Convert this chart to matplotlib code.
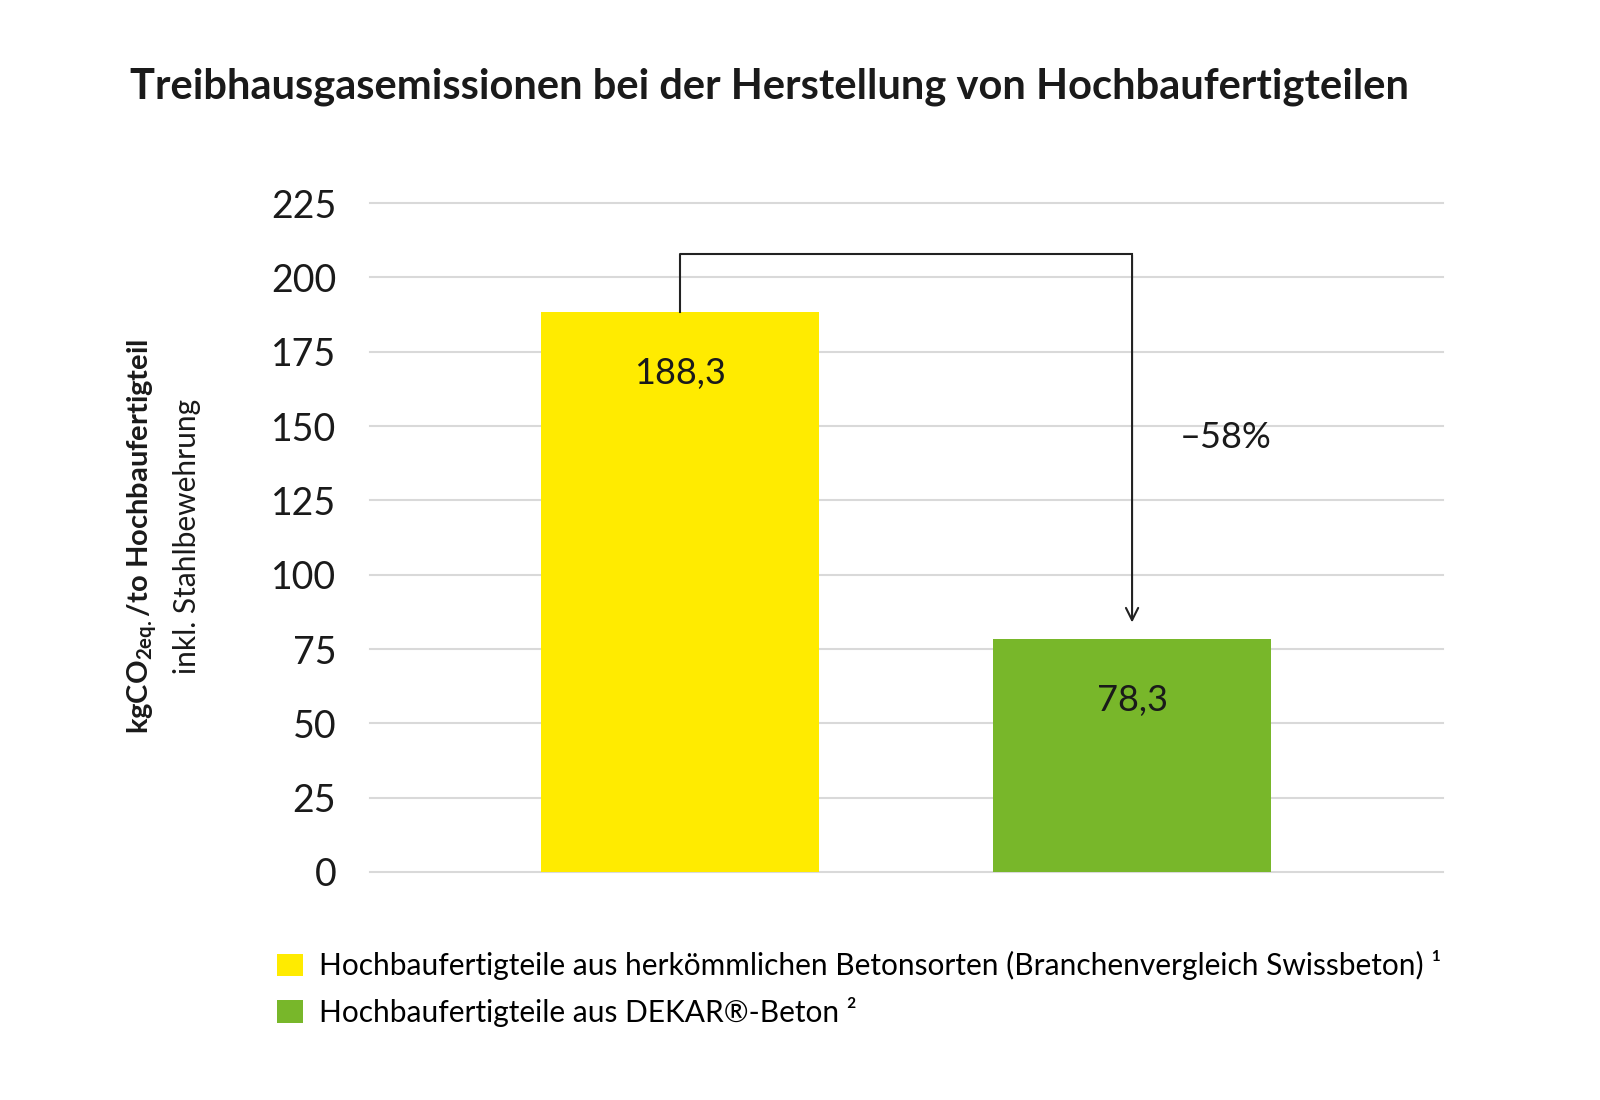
import matplotlib.pyplot as plt
from matplotlib.patches import Patch

plt.rcParams["font.family"] = ["Lato", "DejaVu Sans"]
plt.rcParams["mathtext.fontset"] = "custom"
plt.rcParams["mathtext.rm"] = "Lato"
plt.rcParams["mathtext.bf"] = "Lato:bold"

categories = ["Hochbaufertigteile aus herkömmlichen Betonsorten (Branchenvergleich Swissbeton) \u00b9",
              "Hochbaufertigteile aus DEKAR\u00ae-Beton \u00b2"]
values = [188.3, 78.3]
value_labels = ["188,3", "78,3"]
colors = ["#FFEB00", "#78B72A"]
yticks = [0, 25, 50, 75, 100, 125, 150, 175, 200, 225]
reduction_label = "\u201358%"
bracket_top = 208
arrow_end = 83

fig = plt.figure(figsize=(16, 11), dpi=100)
ax = fig.add_axes([0.231, 0.2073, 0.671, 0.608])

x = [0, 1]
ax.bar(x, values, width=0.615, color=colors, zorder=3)
for xi, v, lab in zip(x, values, value_labels):
    ax.text(xi, v - 20.5, lab, ha="center", va="center", fontsize=26, color="#1a1a1a", zorder=4)

# bracket with arrow
ax.plot([0, 0, 1], [values[0], bracket_top, bracket_top], color="#222222", lw=1.5, zorder=4)
ax.annotate("", xy=(1, arrow_end), xytext=(1, bracket_top + 0.4),
            arrowprops=dict(arrowstyle="->", color="#222222", lw=1.5, mutation_scale=22), zorder=4)
ax.text(1.207, 146, reduction_label, ha="center", va="center", fontsize=26, color="#1a1a1a")

ax.set_xlim(-0.686, 1.688)
ax.set_ylim(0, 225)
ax.set_yticks(yticks)
ax.set_yticklabels([str(t) for t in yticks], fontsize=27, color="#1a1a1a")
ax.set_xticks([])
ax.tick_params(axis="y", length=0, pad=24)
ax.grid(axis="y", color="#d9d9d9", lw=1.5, zorder=0)
for s in ax.spines.values():
    s.set_visible(False)
for gl in ax.get_ygridlines():
    gl.set_clip_on(False)

fig.text(0.081, 0.921, "Treibhausgasemissionen bei der Herstellung von Hochbaufertigteilen",
         fontsize=30, fontweight="bold", color="#1a1a1a", va="center", ha="left")

fig.text(0.089, 0.512, r"kgCO$_{\mathbf{2eq.}}$/to Hochbaufertigteil", rotation=90,
         fontsize=21, fontweight="bold", ha="center", va="center", color="#1a1a1a")
fig.text(0.117, 0.512, "inkl. Stahlbewehrung", rotation=90,
         fontsize=21.5, ha="center", va="center", color="#1a1a1a")

handles = [Patch(facecolor=c, edgecolor="none") for c in colors]
fig.legend(handles, categories, loc="upper left", bbox_to_anchor=(0.173, 0.136),
           frameon=False, fontsize=21.5, handlelength=0.87, handleheight=0.8,
           handletextpad=0.53, labelspacing=0.55, borderaxespad=0, borderpad=0)

fig.savefig("out.png", dpi=100, facecolor="white")
